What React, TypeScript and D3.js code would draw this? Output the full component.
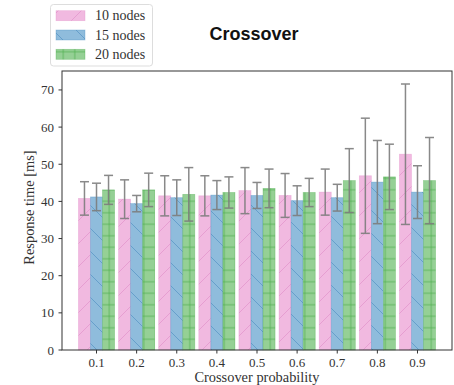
import * as d3 from "d3";

const probs = ["0.1", "0.2", "0.3", "0.4", "0.5", "0.6", "0.7", "0.8", "0.9"];
const seriesNames = ["10 nodes", "15 nodes", "20 nodes"];
const mean10 = [40.8, 40.6, 41.5, 41.5, 42.9, 41.6, 42.5, 46.9, 52.7];
const err10 = [4.5, 5.2, 5.4, 5.4, 6.2, 5.9, 6.2, 15.5, 18.9];
const mean15 = [41.2, 39.4, 41.0, 41.7, 41.6, 40.2, 41.0, 45.2, 42.5];
const err15 = [3.7, 2.2, 4.8, 3.9, 3.5, 4.0, 3.6, 11.2, 7.1];
const mean20 = [43.1, 43.1, 41.9, 42.4, 43.5, 42.4, 45.6, 46.6, 45.6];
const err20 = [3.9, 4.5, 7.2, 4.2, 5.2, 3.8, 8.6, 8.8, 11.6];
const yTicks = [0, 10, 20, 30, 40, 50, 60, 70];

const W = 454;
const H = 385;
const box = { l: 62, r: 452, t: 71, b: 350 };
const serif = "'Liberation Serif', 'Times New Roman', serif";

const styles = [
  { fill: "#f1b9e0", line: "#df8cc8", hatch: "fwd" },
  { fill: "#8fbcdc", line: "#4a8cc0", hatch: "back" },
  { fill: "#95d095", line: "#4cae4c", hatch: "plus" },
];

function Hatches() {
  const d = 23;
  const p = 11.5;
  return (
    <defs>
      {styles.map((s, i) => {
        if (s.hatch === "plus") {
          return (
            <pattern key={i} id={`h${i}`} patternUnits="userSpaceOnUse" width={p} height={p}>
              <path
                d={`M0,${p / 2}H${p}M${p / 2},0V${p}`}
                stroke={s.line}
                strokeWidth={0.9}
                strokeOpacity={0.8}
              />
            </pattern>
          );
        }
        const path =
          s.hatch === "fwd"
            ? `M0,${d}L${d},0M${-d / 2},${d / 2}L${d / 2},${-d / 2}M${d / 2},${d * 1.5}L${d * 1.5},${d / 2}`
            : `M0,0L${d},${d}M${-d / 2},${d / 2}L${d / 2},${d * 1.5}M${d / 2},${-d / 2}L${d * 1.5},${d / 2}`;
        return (
          <pattern key={i} id={`h${i}`} patternUnits="userSpaceOnUse" width={d} height={d}>
            <path d={path} stroke={s.line} strokeWidth={0.8} strokeOpacity={0.75} />
          </pattern>
        );
      })}
    </defs>
  );
}

export default function App() {
  const x = d3.scaleLinear().domain([-0.86, probs.length - 1 + 0.86]).range([box.l, box.r]);
  const y = d3.scaleLinear().domain([0, 75.1]).range([box.b, box.t]);
  const bw = 0.3;
  const means = [mean10, mean15, mean20];
  const errs = [err10, err15, err20];

  return (
    <svg
      width={W}
      height={H}
      style={{ position: "absolute", left: 0, top: 0, background: "#fff" }}
    >
      <Hatches />
      <rect x={0} y={0} width={W} height={H} fill="#fff" />

      {/* bars */}
      {means.map((m, s) =>
        m.map((v, i) => {
          const c = i + (s - 1) * bw;
          const x0 = x(c - bw / 2);
          const x1 = x(c + bw / 2);
          return (
            <g key={`b${s}-${i}`}>
              <rect x={x0} y={y(v)} width={x1 - x0} height={y(0) - y(v)} fill={styles[s].fill} />
              <rect
                x={x0}
                y={y(v)}
                width={x1 - x0}
                height={y(0) - y(v)}
                fill={`url(#h${s})`}
                stroke={styles[s].line}
                strokeOpacity={0.45}
                strokeWidth={0.7}
              />
            </g>
          );
        })
      )}

      {/* error bars */}
      {means.map((m, s) =>
        m.map((v, i) => {
          const cx = x(i + (s - 1) * bw);
          const lo = y(v - errs[s][i]);
          const hi = y(v + errs[s][i]);
          return (
            <g key={`e${s}-${i}`} stroke="#7d7d7d" strokeWidth={1.5} opacity={0.9}>
              <line x1={cx} x2={cx} y1={lo} y2={hi} />
              <line x1={cx - 4.5} x2={cx + 4.5} y1={lo} y2={lo} />
              <line x1={cx - 4.5} x2={cx + 4.5} y1={hi} y2={hi} />
            </g>
          );
        })
      )}

      {/* axes frame */}
      <rect
        x={box.l}
        y={box.t}
        width={box.r - box.l}
        height={box.b - box.t}
        fill="none"
        stroke="#333"
        strokeWidth={1}
      />

      {/* y ticks */}
      {yTicks.map((t) => (
        <g key={t}>
          <line x1={box.l - 3.5} x2={box.l} y1={y(t)} y2={y(t)} stroke="#333" />
          <text
            x={box.l - 8}
            y={y(t) + 4.5}
            textAnchor="end"
            fontFamily={serif}
            fontSize={13}
            fill="#333"
          >
            {t}
          </text>
        </g>
      ))}

      {/* x ticks */}
      {probs.map((p, i) => (
        <g key={p}>
          <line x1={x(i)} x2={x(i)} y1={box.b} y2={box.b + 3.5} stroke="#333" />
          <text
            x={x(i)}
            y={box.b + 17}
            textAnchor="middle"
            fontFamily={serif}
            fontSize={13}
            fill="#333"
          >
            {p}
          </text>
        </g>
      ))}

      <text
        x={(box.l + box.r) / 2}
        y={382}
        textAnchor="middle"
        fontFamily={serif}
        fontSize={14.4}
        fill="#333"
      >
        Crossover probability
      </text>
      <text
        transform={`translate(34,${(box.t + box.b) / 2 - 3}) rotate(-90)`}
        textAnchor="middle"
        fontFamily={serif}
        fontSize={14.4}
        fill="#333"
      >
        Response time [ms]
      </text>

      <text
        x={254}
        y={39.5}
        textAnchor="middle"
        fontFamily="'Liberation Sans', Arial, sans-serif"
        fontWeight="bold"
        fontSize={18}
        fill="#111"
      >
        Crossover
      </text>

      {/* legend */}
      <rect x={50.5} y={4.5} width={102} height={61.5} rx={3} fill="#fff" stroke="#ddd" strokeWidth={1} />
      {seriesNames.map((n, s) => {
        const cy = 15.7 + s * 19.3;
        return (
          <g key={n}>
            <rect x={56} y={cy - 5} width={29} height={10} fill={styles[s].fill} />
            <rect
              x={56}
              y={cy - 5}
              width={29}
              height={10}
              fill={`url(#h${s})`}
              stroke={styles[s].line}
              strokeOpacity={0.45}
              strokeWidth={0.7}
            />
            <text x={95} y={cy + 4.5} fontFamily={serif} fontSize={14} fill="#333">
              {n}
            </text>
          </g>
        );
      })}
    </svg>
  );
}
